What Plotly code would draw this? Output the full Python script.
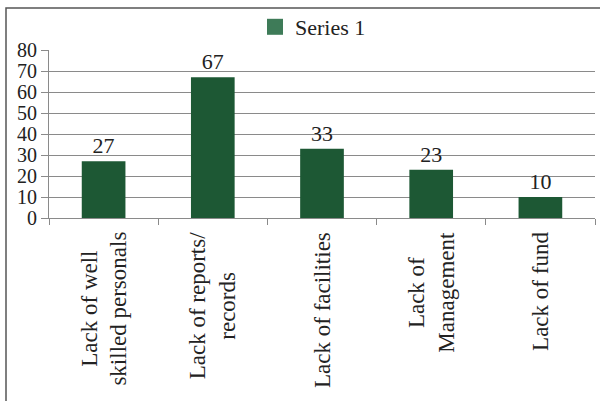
import plotly.graph_objects as go

categories = ["Lack of well skilled personals", "Lack of reports/ records",
              "Lack of facilities", "Lack of Management", "Lack of fund"]
label_lines = ["Lack of well<br>skilled personals", "Lack of reports/<br>records",
               "Lack of facilities", "Lack of<br>Management", "Lack of fund"]
values = [27, 67, 33, 23, 10]
series_name = "Series 1"
y_ticks = [0, 10, 20, 30, 40, 50, 60, 70, 80]

FONT = "Liberation Serif"
W, H = 600, 401
ML, MR, MT, MB = 49, 5, 50, 183
PW, PH = W - ML - MR, H - MT - MB

fig = go.Figure()
fig.add_trace(go.Bar(
    x=categories, y=values, name=series_name, showlegend=False,
    marker=dict(color="#1d5834", line=dict(width=0)),
    text=[str(v) for v in values], textposition="outside",
    textfont=dict(family=FONT, size=22, color="#222222"),
    cliponaxis=False,
))
# legend entry (larger square)
fig.add_trace(go.Scatter(
    x=[None], y=[None], mode="markers", name=series_name,
    marker=dict(symbol="square", size=16, color="#3e7b58"),
))

for cat, lab in zip(categories, label_lines):
    fig.add_annotation(x=cat, y=0, xref="x", yref="paper", text=lab,
                       textangle=-90, showarrow=False, yanchor="top",
                       xanchor="center", align="center", yshift=-12,
                       font=dict(family=FONT, size=23, color="#222222"))

# outer border
fig.add_shape(type="rect", xref="paper", yref="paper",
              x0=(6 - ML) / PW, x1=(606 - ML) / PW,
              y0=-(410 - MT - PH) / PH, y1=1 + (MT - 8) / PH,
              line=dict(color="#555555", width=1.5), layer="below")

fig.update_layout(
    width=W, height=H, margin=dict(l=ML, r=MR, t=MT, b=MB),
    paper_bgcolor="white", plot_bgcolor="white",
    bargap=0.6,
    font=dict(family=FONT, size=22, color="#222222"),
    showlegend=True,
    legend=dict(orientation="h", x=(255 - ML) / PW, xanchor="left",
                y=1 + (MT - 6) / PH, yanchor="top",
                font=dict(family=FONT, size=22, color="#222222"),
                bgcolor="rgba(0,0,0,0)", itemwidth=30, tracegroupgap=0),
    xaxis=dict(showticklabels=False, ticks="outside", tickson="boundaries",
               ticklen=6, tickcolor="#8a8a8a", showline=True,
               linecolor="#8a8a8a", linewidth=1, showgrid=False),
    yaxis=dict(range=[0, 80], tickvals=y_ticks, ticks="outside", ticklen=7,
               tickcolor="#8a8a8a", showline=True, linecolor="#8a8a8a",
               linewidth=1, gridcolor="#8a8a8a", gridwidth=1, zeroline=False,
               tickfont=dict(family=FONT, size=20, color="#222222")),
)

fig.write_html("out.html")
